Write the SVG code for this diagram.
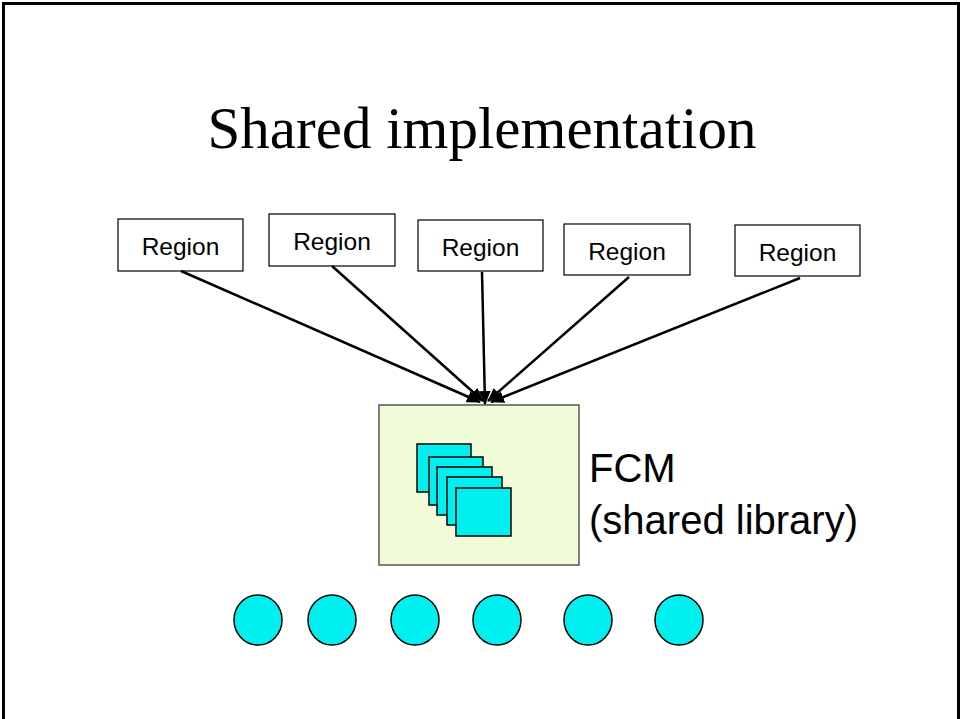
<svg xmlns="http://www.w3.org/2000/svg" width="961" height="719" viewBox="0 0 961 719">
<style>
.region rect{fill:#fff;stroke:#000;stroke-width:1.2}
.region text{font-family:"Liberation Sans",Arial,sans-serif;font-size:24.5px;text-anchor:middle;fill:#000}
.conn line{stroke:#000;stroke-width:2.5}
.card{fill:#00F0F0;stroke:#000;stroke-width:1.5}
.dot{fill:#00F0F0;stroke:#000;stroke-width:1.5}
.lbl{font-family:"Liberation Sans",Arial,sans-serif;font-size:40px;fill:#000}
</style>
<defs>
<marker id="arr" viewBox="0 0 14 12" refX="13" refY="6" markerWidth="14" markerHeight="12" markerUnits="userSpaceOnUse" orient="auto">
<path d="M0,0 L14,6 L0,12 Z" fill="#000"/>
</marker>
</defs>
<rect width="961" height="719" fill="#fff"/>
<path d="M3.5,760 V3.5 H958.5 V760" fill="none" stroke="#000" stroke-width="3"/>
<text x="482" y="148" font-family="'Liberation Serif','Times New Roman',serif" font-size="59" text-anchor="middle">Shared implementation</text>

<g id="fcm">
<rect x="379" y="405" width="200" height="160" fill="#F0FCD8" stroke="#555" stroke-width="1.5"/>
<rect class="card" x="417" y="444" width="54" height="48"/>
<rect class="card" x="429" y="457" width="54" height="48"/>
<rect class="card" x="437" y="467" width="55" height="48"/>
<rect class="card" x="447" y="477" width="55" height="48"/>
<rect class="card" x="456" y="488" width="55" height="48"/>
</g>
<g id="fcm-label">
<text class="lbl" x="589" y="482">FCM</text>
<text class="lbl" x="589" y="534">(shared library)</text>
</g>

<g id="region1" class="region"><rect x="118" y="219" width="125" height="52"/><text x="180.5" y="255">Region</text></g>
<g id="region2" class="region"><rect x="269" y="214" width="126" height="52"/><text x="332" y="250">Region</text></g>
<g id="region3" class="region"><rect x="418" y="220" width="125" height="51"/><text x="480.5" y="256">Region</text></g>
<g id="region4" class="region"><rect x="564" y="224" width="126" height="51"/><text x="627" y="260">Region</text></g>
<g id="region5" class="region"><rect x="735" y="225" width="125" height="51"/><text x="797.5" y="261">Region</text></g>

<g id="connectors" class="conn">
<line x1="181" y1="271" x2="480" y2="402" marker-end="url(#arr)"/>
<line x1="332" y1="266" x2="483" y2="401" marker-end="url(#arr)"/>
<line x1="482" y1="272" x2="485" y2="404" marker-end="url(#arr)"/>
<line x1="629" y1="277" x2="488" y2="401" marker-end="url(#arr)"/>
<line x1="800" y1="278" x2="491" y2="402" marker-end="url(#arr)"/>
</g>

<g id="dots">
<ellipse class="dot" cx="258" cy="620" rx="24" ry="25"/>
<ellipse class="dot" cx="332" cy="620" rx="24" ry="25"/>
<ellipse class="dot" cx="415" cy="620" rx="24" ry="25"/>
<ellipse class="dot" cx="497" cy="620" rx="24" ry="25"/>
<ellipse class="dot" cx="588" cy="620" rx="24" ry="25"/>
<ellipse class="dot" cx="679" cy="620" rx="24" ry="25"/>
</g>
</svg>
